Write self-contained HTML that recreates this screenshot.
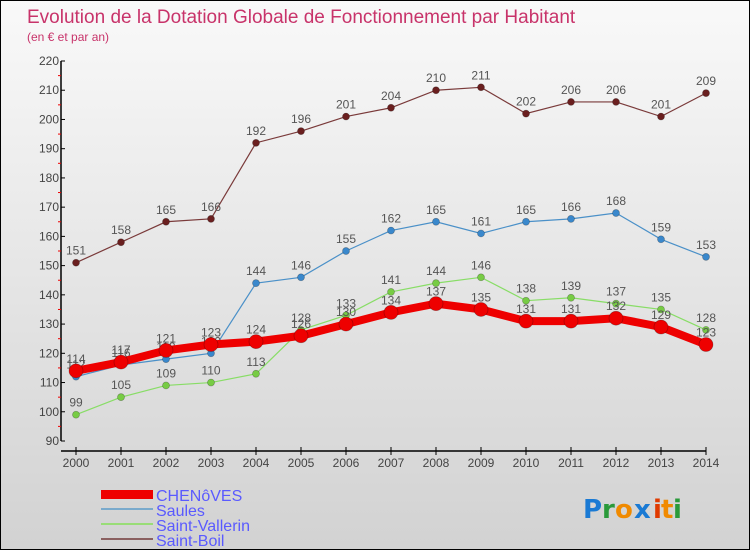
<!DOCTYPE html>
<html><head><meta charset="utf-8">
<style>
html,body{margin:0;padding:0;}
body{width:750px;height:550px;overflow:hidden;font-family:"Liberation Sans",sans-serif;}
#wrap{position:relative;width:748px;height:548px;border:1px solid #000;background:linear-gradient(#f9f9f9,#d2d2d2);}
svg{position:absolute;left:0;top:0;}
</style></head>
<body>
<div id="wrap">
<svg id="chart" width="750" height="550">
<text x="26" y="22" font-size="19" fill="#c8336a">Evolution de la Dotation Globale de Fonctionnement par Habitant</text>
<text x="26" y="40" font-size="12" fill="#c8336a">(en € et par an)</text>
<g id="axes"></g>
<g id="series"></g>
<g id="legend" font-size="16" fill="#5a5aff">
<rect x="100" y="489" width="52" height="9" fill="#e00"/>
<text x="155" y="500">CHENôVES</text>
<rect x="100" y="507" width="52" height="2" fill="#7aaacc"/>
<text x="155" y="515">Saules</text>
<rect x="100" y="522" width="52" height="2" fill="#99dd77"/>
<text x="155" y="530">Saint-Vallerin</text>
<rect x="100" y="537" width="52" height="2" fill="#8a6060"/>
<text x="155" y="545">Saint-Boil</text>
</g>
<g font-size="26" font-weight="bold" font-family="'DejaVu Sans',sans-serif">
<text x="582" y="517" fill="#1a7ad4">P</text><text x="601" y="517" fill="#2a9a3a">r</text><text x="614" y="517" fill="#f08a00">o</text><text x="633" y="517" fill="#1a7ad4">x</text><text x="652" y="517" fill="#e03a00">i</text><text x="660" y="517" fill="#f08a00">t</text><text x="672" y="517" fill="#2a9a3a">i</text>
</g>
</svg>
</div>
<script>
const years=[2000,2001,2002,2003,2004,2005,2006,2007,2008,2009,2010,2011,2012,2013,2014];
const chenoves=[114,117,121,123,124,126,130,134,137,135,131,131,132,129,123];
const saules=[112,116,118,120,144,146,155,162,165,161,165,166,168,159,153];
const vallerin=[99,105,109,110,113,128,133,141,144,146,138,139,137,135,128];
const boil=[151,158,165,166,192,196,201,204,210,211,202,206,206,201,209];
const yTicks=[90,100,110,120,130,140,150,160,170,180,190,200,210,220];
const NS='http://www.w3.org/2000/svg';
function x(i){return 75+i*45;}
function y(v){return 440-(v-90)*380/130;}
function mk(tag,attrs,parent){const e=document.createElementNS(NS,tag);for(const k in attrs)e.setAttribute(k,attrs[k]);parent.appendChild(e);return e;}
const axes=document.getElementById('axes');
const ya=mk('line',{x1:60,y1:60,x2:60,y2:440,stroke:'#000','stroke-width':1.5},axes);


const xa=mk('line',{x1:60,y1:450,x2:705,y2:450,stroke:'#000','stroke-width':1.5},axes);


yTicks.forEach((t,i)=>{
 mk('line',{x1:60,y1:y(t),x2:64,y2:y(t),stroke:'#000'},axes);
 if(i<yTicks.length-1) mk('line',{x1:57,y1:y(t+5),x2:60,y2:y(t+5),stroke:'#e00'},axes);
 const tl=mk('text',{x:58,y:y(t)+4,'text-anchor':'end','font-size':12,fill:'#444'},axes);
 tl.textContent=t;
 
 
});
years.forEach((yr,i)=>{
 mk('line',{x1:x(i),y1:446,x2:x(i),y2:454,stroke:'#000'},axes);
 const tl=mk('text',{x:x(i),y:466,'text-anchor':'middle','font-size':12,fill:'#444'},axes);
 tl.textContent=yr;
 
 
});
const sg=document.getElementById('series');
function draw(vals,color,dot,w,r,name){
 const g=mk('g',{},sg);
 
 
 const pl=mk('polyline',{points:vals.map((v,i)=>x(i)+','+y(v)).join(' '),fill:'none',stroke:color,'stroke-width':w},g);
 
 
 vals.forEach((v,i)=>{
  const c=mk('circle',{cx:x(i),cy:y(v),r:r,fill:dot,stroke:'rgba(0,0,0,0.3)','stroke-width':0.7},g);
  
  
  const t=mk('text',{x:x(i),y:y(v)-8,'text-anchor':'middle','font-size':12,fill:'#555'},g);
  t.textContent=v;
  
  
 });
}
draw(boil,'#7a3a3a','#6a1f1f',1.2,3.5,'saint-boil');
draw(saules,'#4a90c8','#3a88cc',1.2,3.5,'saules');
draw(vallerin,'#88dd66','#77cc44',1.2,3.5,'saint-vallerin');
draw(chenoves,'#ee0000','#ee0000',8,7,'chenoves');
</script>
</body></html>
